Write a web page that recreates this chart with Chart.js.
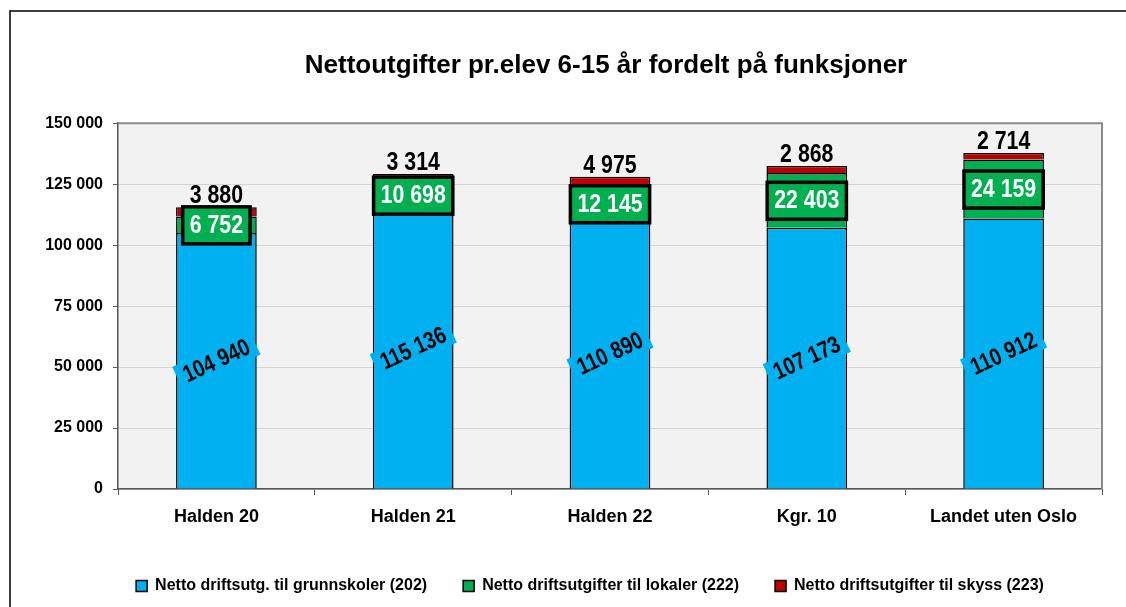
<!DOCTYPE html>
<html>
<head>
<meta charset="utf-8">
<script src="https://cdn.jsdelivr.net/npm/chart.js@4"></script>
<style>
  html, body { margin: 0; padding: 0; background: #fff; }
  #wrap { width: 1126px; height: 607px; }
</style>
</head>
<body>
<div id="wrap"><canvas id="chart"></canvas></div>
<script>
// Nettoutgifter pr. elev 6-15 år, fordelt på funksjoner

const categories  = ['Halden 20', 'Halden 21', 'Halden 22', 'Kgr. 10', 'Landet uten Oslo'];
const grunnskoler = [104940, 115136, 110890, 107173, 110912];
const lokaler     = [6752, 10698, 12145, 22403, 24159];
const skyss       = [3880, 3314, 4975, 2868, 2714];

const FONT  = '"Liberation Sans Narrow", "Arial Narrow", "Liberation Sans", Arial, sans-serif';
const BLUE  = '#00b0f0';
const GREEN = '#00b050';
const RED   = '#c00000';
const SQUEEZE = 0.82;   // fake a narrow face for the value labels

function fmt(n) {
  return String(n).replace(/\B(?=(\d{3})+(?!\d))/g, ' ');
}

// frame round the whole chart + grey plot background
const framePlugin = {
  id: 'frame',
  afterLayout(chart) {
    // title and legend sit a bit right of centre in the original
    chart.titleBlock.left  += 55;
    chart.titleBlock.right += 55;
    chart.legend.left  += 39;
    chart.legend.right += 39;
  },
  beforeDraw(chart) {
    const { ctx, chartArea: a } = chart;
    ctx.save();
    ctx.fillStyle = '#f2f2f2';
    ctx.fillRect(a.left, a.top, a.right - a.left, a.bottom - a.top);
    ctx.strokeStyle = '#000';
    ctx.lineWidth = 1.5;
    ctx.beginPath();
    ctx.moveTo(10, chart.height);
    ctx.lineTo(10, 11);
    ctx.lineTo(chart.width, 11);
    ctx.stroke();
    ctx.restore();
  },
  afterDraw(chart) {
    const { ctx, chartArea: a } = chart;
    ctx.save();
    ctx.strokeStyle = '#8c8c8c';
    ctx.lineWidth = 2;
    ctx.beginPath();
    ctx.moveTo(a.left, a.top);
    ctx.lineTo(a.right, a.top);
    ctx.lineTo(a.right, a.bottom);
    ctx.stroke();
    ctx.restore();
  }
};

function narrowText(ctx, txt, x, y) {
  ctx.save();
  ctx.translate(x, y);
  ctx.scale(SQUEEZE, 1);
  ctx.fillText(txt, 0, 0);
  ctx.restore();
}

// value labels on the segments
const labelPlugin = {
  id: 'segLabels',
  afterDatasetsDraw(chart) {
    const ctx = chart.ctx;
    ctx.save();
    ctx.textAlign = 'center';
    ctx.textBaseline = 'middle';

    chart.getDatasetMeta(0).data.forEach((bar, i) => {
      const txt = fmt(grunnskoler[i]);
      ctx.save();
      ctx.translate(bar.x, (bar.y + bar.base) / 2);
      ctx.rotate(-25 * Math.PI / 180);
      ctx.font = `bold 24px ${FONT}`;
      const w = ctx.measureText(txt).width * SQUEEZE;
      ctx.fillStyle = BLUE;
      ctx.fillRect(-w / 2 - 7, -13, w + 14, 26);
      ctx.fillStyle = '#000';
      narrowText(ctx, txt, 0, 1);
      ctx.restore();
    });

    chart.getDatasetMeta(1).data.forEach((bar, i) => {
      const txt = fmt(lokaler[i]);
      const cy = (bar.y + bar.base) / 2;
      ctx.font = `bold 26px ${FONT}`;
      const w = ctx.measureText(txt).width * SQUEEZE;
      ctx.fillStyle = GREEN;
      ctx.strokeStyle = '#000';
      ctx.lineWidth = 3.5;
      ctx.fillRect(bar.x - w / 2 - 7, cy - 18, w + 14, 37);
      ctx.strokeRect(bar.x - w / 2 - 7, cy - 18, w + 14, 37);
      ctx.fillStyle = '#fff';
      narrowText(ctx, txt, bar.x, cy + 1);
    });

    ctx.textBaseline = 'alphabetic';
    chart.getDatasetMeta(2).data.forEach((bar, i) => {
      ctx.font = `bold 26px ${FONT}`;
      ctx.fillStyle = '#000';
      narrowText(ctx, fmt(skyss[i]), bar.x, bar.y - 4);
    });
    ctx.restore();
  }
};

new Chart(document.getElementById('chart'), {
  type: 'bar',
  data: {
    labels: categories,
    datasets: [
      { label: 'Netto driftsutg. til grunnskoler (202)',     data: grunnskoler, backgroundColor: BLUE,  borderColor: '#000', borderWidth: 1.5 },
      { label: 'Netto driftsutgifter til lokaler (222)',     data: lokaler,     backgroundColor: GREEN, borderColor: '#000', borderWidth: 1.5 },
      { label: 'Netto driftsutgifter til skyss (223)',       data: skyss,       backgroundColor: RED,   borderColor: '#000', borderWidth: 1.5 },
    ]
  },
  options: {
    responsive: true,
    maintainAspectRatio: false,
    animation: false,
    barPercentage: 0.41,
    categoryPercentage: 1,
    layout: { padding: { top: 0, right: 24, bottom: 3, left: 0 } },
    plugins: {
      title: {
        display: true,
        text: 'Nettoutgifter pr.elev 6-15 år fordelt på funksjoner',
        color: '#000',
        font: { family: FONT, size: 26, weight: 'bold' },
        padding: { top: 50, bottom: 42 }
      },
      legend: {
        position: 'bottom',
        labels: {
          color: '#000',
          font: { family: FONT, size: 16, weight: 'bold' },
          boxWidth: 11,
          boxHeight: 11,
          padding: 36
        }
      },
      tooltip: { enabled: false }
    },
    scales: {
      x: {
        stacked: true,
        afterFit: s => { s.height = 53; },
        grid: { drawOnChartArea: false, drawTicks: true, tickLength: 6, color: '#555', offset: true },
        border: { color: '#555', width: 1.5 },
        ticks: { color: '#000', padding: 11, font: { family: FONT, size: 18, weight: 'bold' } }
      },
      y: {
        stacked: true,
        min: 0,
        max: 150000,
        afterFit: s => { s.width = 118; },
        grid: { color: '#d4d4d4', tickColor: '#555', tickLength: 5 },
        border: { color: '#555', width: 1.5 },
        ticks: {
          stepSize: 25000,
          color: '#000',
          padding: 10,
          font: { family: FONT, size: 16, weight: 'bold' },
          callback: v => fmt(v)
        }
      }
    }
  },
  plugins: [framePlugin, labelPlugin]
});
</script>
</body>
</html>
